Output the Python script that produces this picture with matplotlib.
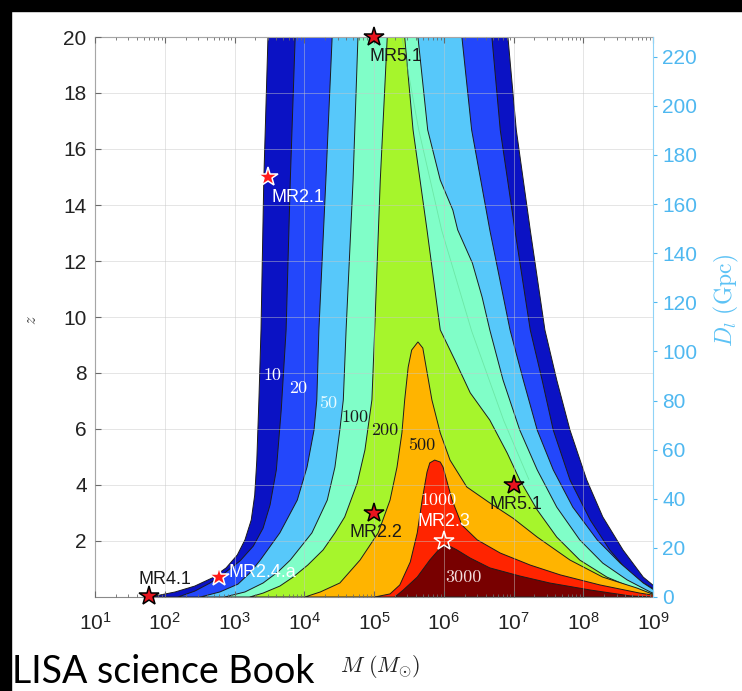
import numpy as np
import matplotlib
matplotlib.use('Agg')
import matplotlib.pyplot as plt
from matplotlib.patches import Rectangle

plt.rcParams['font.family'] = ['Liberation Sans', 'DejaVu Sans']
plt.rcParams['mathtext.fontset'] = 'custom'
plt.rcParams['mathtext.rm'] = 'Liberation Sans'
plt.rcParams['mathtext.it'] = 'Liberation Sans:italic'

# livelli SNR e colori delle bande (banda = tra un livello e il successivo)
livelli = [10, 20, 50, 100, 200, 500, 1000, 3000]
colori = ['#0b12c4', '#2347fb', '#57c8fa', '#80fec8', '#a6f52c', '#ffb400', '#ff2400', '#780000']

# contorni: (log10 M, z)
snr10_logm = [1.79, 2.15, 2.43, 2.68, 2.88, 3.04, 3.15, 3.24, 3.29, 3.32, 3.35, 3.38, 3.42, 3.48,
              6.92, 7.04, 7.24, 7.45, 7.62, 7.81, 8.05, 8.28, 8.57, 8.86, 9.03, 9.24]
snr10_z = [0, 0.18, 0.39, 0.68, 1.04, 1.5, 2.04, 2.75, 3.64, 4.89, 7.04, 9.54, 14.89, 20,
           20, 16.68, 13.11, 9.54, 7.75, 5.96, 4.18, 2.86, 1.68, 0.71, 0.36, 0]

snr20_logm = [2.19, 2.43, 2.65, 2.86, 3.08, 3.27, 3.41, 3.51, 3.60, 3.67, 3.74, 3.80, 3.87,
              6.69, 6.81, 7.02, 7.24, 7.41, 7.57, 7.81, 8.10, 8.38, 8.71, 8.99, 9.17]
snr20_z = [0, 0.21, 0.5, 0.86, 1.29, 1.82, 2.46, 3.29, 4.54, 6.68, 9.54, 14.89, 20,
           20, 16.68, 13.11, 9.54, 7.75, 5.96, 4.18, 2.75, 1.68, 0.71, 0.32, 0]

snr50_logm = [2.51, 2.79, 3.05, 3.22, 3.37, 3.65, 3.90, 4.04, 4.14, 4.18, 4.21, 4.31, 4.40,
              6.26, 6.40, 6.66, 6.95, 7.14, 7.34, 7.57, 7.85, 8.20, 8.53, 8.86, 9.06, 9.17]
snr50_z = [0, 0.18, 0.46, 0.86, 1.32, 2.29, 3.46, 4.64, 5.96, 7.04, 9.54, 14.89, 20,
           20, 16.68, 13.11, 9.54, 7.75, 5.96, 4.54, 3.21, 2.04, 1.21, 0.5, 0.18, 0]

snr100_logm = [2.86, 3.15, 3.41, 3.62, 3.80, 4.11, 4.33, 4.44, 4.51, 4.56, 4.60, 4.70, 4.77,
               5.63, 5.77, 5.95, 6.13, 6.20, 6.41, 6.55, 6.66, 6.85, 7.09, 7.34, 7.62, 7.95,
               8.28, 8.63, 8.96, 9.13]
snr100_z = [0, 0.18, 0.5, 0.89, 1.32, 2.29, 3.46, 4.64, 5.96, 7.04, 9.54, 14.89, 20,
            20, 16.68, 14.89, 13.82, 13.11, 11.93, 10.71, 9.54, 7.75, 5.96, 4.54, 3.21, 2.04,
            1.21, 0.61, 0.18, 0]

snr200_logm = [3.22, 3.41, 3.65, 3.84, 4.05, 4.27, 4.44, 4.58, 4.76, 4.87, 4.97, 5.01, 5.09, 5.19,
               5.44, 5.56, 5.76, 5.95, 6.16, 6.38, 6.66, 6.91, 7.09, 7.34, 7.62, 7.95, 8.34,
               8.71, 9.03, 9.10]
snr200_z = [0, 0.14, 0.39, 0.71, 1.14, 1.68, 2.29, 2.86, 4.07, 5.25, 7.04, 9.54, 14.89, 20,
            20, 16.68, 13.11, 9.54, 8.46, 7.29, 6.32, 5.14, 4.18, 3.11, 2.14, 1.32, 0.71,
            0.32, 0.07, 0]

snr500_logm = [4.01, 4.23, 4.51, 4.80, 5.06, 5.23, 5.33, 5.40, 5.44, 5.49, 5.54, 5.63, 5.70,
               5.73, 5.83, 5.95, 6.09, 6.33, 6.66, 6.99, 7.34, 7.81, 8.28, 8.77, 9.10]
snr500_z = [0, 0.18, 0.5, 1.32, 2.29, 3.46, 4.64, 5.86, 7.04, 8.21, 8.82, 9.11, 8.89,
            8.46, 7.04, 5.86, 4.89, 3.93, 3.36, 2.82, 2.14, 1.32, 0.71, 0.32, 0]

snr1000_logm = [5.01, 5.23, 5.37, 5.52, 5.62, 5.69, 5.76, 5.80, 5.87, 5.95, 5.99, 6.12, 6.26,
                6.48, 6.81, 7.24, 7.67, 8.24, 8.81, 9.17]
snr1000_z = [0, 0.11, 0.43, 1.25, 2.29, 3.46, 4.46, 4.79, 4.89, 4.82, 4.64, 3.46, 2.57,
             2.04, 1.57, 1.14, 0.79, 0.43, 0.14, 0]

snr3000_logm = [5.30, 5.42, 5.62, 5.80, 5.95, 6.05, 6.19, 6.38, 6.66, 7.09, 7.52, 8.10, 8.67, 8.96]
snr3000_z = [0, 0.25, 0.71, 1.32, 1.75, 1.86, 1.68, 1.39, 1.04, 0.75, 0.5, 0.25, 0.04, 0]

contorni = [(snr10_logm, snr10_z), (snr20_logm, snr20_z), (snr50_logm, snr50_z),
            (snr100_logm, snr100_z), (snr200_logm, snr200_z), (snr500_logm, snr500_z),
            (snr1000_logm, snr1000_z), (snr3000_logm, snr3000_z)]

# etichette dei contorni (log10 M, z)
etich_logm = [3.54, 3.91, 4.34, 4.73, 5.16, 5.69, 5.92, 6.28]
etich_z = [7.93, 7.46, 6.93, 6.43, 5.96, 5.43, 3.46, 0.71]
etich_col = ['white', 'white', '#e8fbff', '#1a1a1a', '#1a1a1a', '#1a1a1a', 'white', '#f2dede']

# sorgenti di riferimento
sorg_nomi = ['MR5.1', 'MR2.1', 'MR2.2', 'MR2.3', 'MR5.1', 'MR4.1', 'MR2.4.a']
sorg_m = [1e5, 3e3, 1e5, 1e6, 1e7, 60, 600]
sorg_z = [20, 15, 3, 2, 4, 0.02, 0.7]

# dist. di luminosita' (asse destro)
dl_ticks = [0, 20, 40, 60, 80, 100, 120, 140, 160, 180, 200, 220]
dl_max = 228

fig = plt.figure(figsize=(7.42, 6.91), dpi=100)
ax = fig.add_axes([95 / 742, 94 / 691, 558 / 742, 560 / 691])

for (lm, zz), c in zip(contorni, colori):
    ax.fill(10 ** np.array(lm), zz, facecolor=c, edgecolor='#1c1c1c', linewidth=0.7, zorder=1)

# linea sottile nella zona verde
ax.plot(10 ** np.array([5.40, 5.64, 5.97, 6.40, 6.86, 7.22]), [20, 16.7, 13.1, 9.5, 6.3, 4.2],
        color='#5fd890', lw=0.6, alpha=0.6, zorder=1.5)

ax.set_xscale('log')
ax.set_xlim(10, 1e9)
ax.set_ylim(0, 20)
ax.set_xticks([10 ** k for k in range(1, 10)])
ax.set_xticklabels(['$10^{%d}$' % k for k in range(1, 10)])
ax.set_yticks(range(2, 21, 2))
ax.set_axisbelow(False)
ax.grid(True, which='major', color='#c8c8c8', lw=0.6, alpha=0.55)
ax.tick_params(axis='both', which='both', direction='in', labelsize=15, colors='#6a6a6a',
               labelcolor='#222222', top=True, right=False)
ax.tick_params(axis='both', which='major', length=4)
ax.tick_params(axis='x', which='major', pad=11)
ax.tick_params(axis='y', which='major', pad=6)
ax.tick_params(axis='x', which='minor', length=2.5)
for s in ['left', 'bottom', 'top']:
    ax.spines[s].set_color('#8a8a8a')
ax.spines['right'].set_visible(False)

for lm, zz, lab, c in zip(etich_logm, etich_z, livelli, etich_col):
    ax.text(10 ** lm, zz, str(lab), color=c, fontsize=13, family='cmr10',
            ha='center', va='center', zorder=6)

# stelle
for nome, m, z in zip(sorg_nomi, sorg_m, sorg_z):
    if nome in ('MR2.1', 'MR2.4.a'):
        fc, ec = '#ff1a1a', 'white'
    elif nome == 'MR2.3':
        fc, ec = 'none', 'white'
    else:
        fc, ec = '#e8141e', 'black'
    ax.plot(m, z, marker='*', ms=15, mfc=fc, mec=ec, mew=1.1, clip_on=False, zorder=7)

offs = [(16, -14, 'center', '#1a1a1a'), (22, -15, 'center', 'white'), (1.5, -14, 'center', '#1a1a1a'),
        (0, 14, 'center', 'white'), (2, -14, 'center', '#1a1a1a'), (11.5, 12, 'center', '#1a1a1a'),
        (7, 3.6, 'left', 'white')]
for nome, m, z, (dx, dy, ha, c) in zip(sorg_nomi, sorg_m, sorg_z, offs):
    ax.annotate(nome, (m, z), xytext=(dx, dy), textcoords='offset points', ha=ha, va='center',
                fontsize=13, color=c, zorder=8, annotation_clip=False)

ax.set_xlabel(r'$M\ (M_{\odot})$', math_fontfamily='cm', fontsize=16, color='#222222')
ax.xaxis.set_label_coords(0.511, -0.1)
ax.set_ylabel(r'$z$', math_fontfamily='cm', fontsize=12, color='#444444')
ax.yaxis.set_label_coords(-0.1, 0.495)

azzurro = '#4fb8f0'
ax2 = ax.twinx()
ax2.set_ylim(0, dl_max)
ax2.set_yticks(dl_ticks)
ax2.tick_params(axis='y', direction='out', length=3, colors=azzurro, labelsize=15)
ax2.spines['right'].set_color('#8fd3f7')
for s in ['left', 'bottom', 'top']:
    ax2.spines[s].set_visible(False)
ax2.set_ylabel(r'$D_l\ (\mathrm{Gpc})$', math_fontfamily='cm', fontsize=17, color='#5cc2f5')
ax2.yaxis.set_label_coords(1.105, 0.53)

# cornice nera a sinistra e in alto
fig.patches.append(Rectangle((0, 0), 11 / 742, 1, transform=fig.transFigure, color='black', zorder=10))
fig.patches.append(Rectangle((0, 1 - 11 / 691), 1, 11 / 691, transform=fig.transFigure, color='black', zorder=10))

fig.text(12 / 742, 8 / 691, 'LISA science Book', fontsize=27, family=['Lato', 'Liberation Sans'],
         fontweight='normal', va='baseline', color='black')

fig.savefig('out.png', dpi=100)
